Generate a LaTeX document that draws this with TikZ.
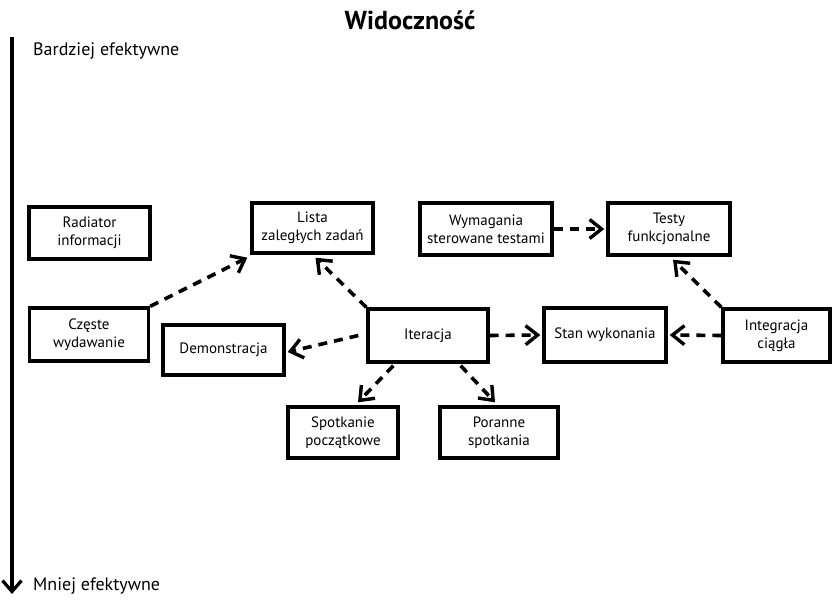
\documentclass[tikz,border=0pt]{standalone}
\usepackage{fontspec}
\setmainfont{PT Sans}
\usetikzlibrary{arrows.meta,calc}
\begin{document}
\begin{tikzpicture}[x=1pt,y=-1pt,
  box/.style={draw,line width=3.4pt,inner sep=0pt,align=center,font=\fontsize{15}{18}\selectfont},
  link/.style={line width=3.6pt,dash pattern=on 9pt off 7pt,
    -{Straight Barb[length=12pt,width=19pt,line width=3.4pt]}},
  lbl/.style={anchor=west,inner sep=0pt,font=\fontsize{18}{21}\selectfont}]
\useasboundingbox (0,0) rectangle (832,601);
% title and effectiveness axis
\node[font=\bfseries\fontsize{26}{29}\selectfont] (title) at (410,20) {Widoczność};
\coordinate (axtop) at (12,37);
\coordinate (axbot) at (12,594);
\draw[line width=3.4pt,-{Straight Barb[length=11pt,width=19pt,line width=3.2pt]}] (axtop) -- (axbot);
\node[lbl] (more) at (33,51) {Bardziej efektywne};
\node[lbl] (less) at (33,586) {Mniej efektywne};
% practices
\node[box,minimum width=121pt,minimum height=52pt] (rad) at (89.5,233) {Radiator\\informacji};
\node[box,minimum width=121pt,minimum height=50pt] (lista) at (312.5,228) {Lista\\zaległych zadań};
\node[box,minimum width=119pt,minimum height=53pt] (czeste) at (89,334.5) {Częste\\wydawanie};
\node[box,minimum width=121pt,minimum height=50pt] (demo) at (223.5,350) {Demonstracja};
\node[box,minimum width=120pt,minimum height=53pt] (iter) at (428,335.5) {Iteracja};
\node[box,minimum width=132pt,minimum height=52pt] (wym) at (486,229) {Wymagania\\sterowane testami};
\node[box,minimum width=122pt,minimum height=52pt] (testy) at (669,229) {Testy\\funkcjonalne};
\node[box,minimum width=122pt,minimum height=54pt] (stan) at (605,335) {Stan wykonania};
\node[box,minimum width=107pt,minimum height=53pt] (integ) at (776.5,335.5) {Integracja\\ciągła};
\node[box,minimum width=110pt,minimum height=51pt] (spot) at (343,432.5) {Spotkanie\\początkowe};
\node[box,minimum width=118pt,minimum height=51pt] (poran) at (499,432.5) {Poranne\\spotkania};
% relations
\draw[link] (czeste.north east) -- ($(lista.south west)+(-3,3)$);
\draw[link] (iter.north west) -- ($(lista.south)+(3,3)$);
\draw[link] ($(iter.west)+(-8,0)$) -- ($(demo.east)+(2,2)$);
\draw[link] ($(iter.south west)+(27,2)$) -- ($(spot.north)+(15,-3)$);
\draw[link] ($(iter.south east)+(-29,2)$) -- ($(poran.north)+(-4,-3)$);
\draw[link] (iter.east) -- ($(stan.west)+(-2,0)$);
\draw[link] (integ.west) -- ($(stan.east)+(2,0)$);
\draw[link] (integ.north west) -- ($(testy.south)+(4,3)$);
\draw[link] (wym.east) -- ($(testy.west)+(-2,0)$);
\end{tikzpicture}
\end{document}
